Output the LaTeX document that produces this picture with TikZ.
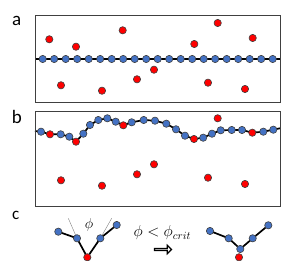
\documentclass[tikz,border=0pt]{standalone}
\usepackage{fontspec}
\newfontfamily\panelfont{Carlito}
\usepackage{tikz}
\usetikzlibrary{positioning,arrows.meta,shapes.arrows,backgrounds,calc}

\definecolor{dotblue}{HTML}{4472C4}
\definecolor{dotred}{HTML}{FF0000}
\definecolor{rimgray}{HTML}{404040}

\begin{document}
\begin{tikzpicture}[
    x=1pt, y=-1pt,
    dot/.style={circle, draw=rimgray, line width=0.6pt, inner sep=0pt,
                minimum size=7.3pt},
    bead/.style={dot, fill=dotblue},
    grain/.style={dot, fill=dotred},
    panel/.style={draw=rimgray, line width=0.8pt},
    chain/.style={line width=1.7pt, black, line join=round},
    guide/.style={gray, line width=0.4pt},
    tag/.style={anchor=base, inner sep=0pt, font=\panelfont\fontsize{19}{19}\selectfont},
  ]
  \useasboundingbox (0,0) rectangle (282,261);

  % Panel a: straight chain among scattered grains
  \node[tag] (taga) at (16.7,26) {a};
  \node[panel, minimum width=245pt, minimum height=87pt, inner sep=0pt,
        anchor=north west] (boxa) at (35,15) {};
  \coordinate (al) at (35,59);
  \coordinate (ar) at (280,59);
  \foreach \i in {1,...,21}
    \node[bead] (a\i) at ({42.7+11.5*(\i-1)},59) {};
  \foreach \x/\y [count=\i] in {49.3/39.3, 76/46.7, 122.7/30.3, 217.7/23,
      194.3/44, 252.7/38, 61/85.3, 102/90.7, 137/79.3, 154/69.7, 208/82.7, 245/89}
    \node[grain] (ga\i) at (\x,\y) {};
  \begin{scope}[on background layer]
    \draw[chain] (al) -- (ar);
  \end{scope}

  % Panel b: chain pulled onto the grains
  \node[tag] (tagb) at (16.8,124) {b};
  \node[panel, minimum width=245pt, minimum height=95.3pt, inner sep=0pt,
        anchor=north west] (boxb) at (35,110.7) {};
  \coordinate (bl) at (35,131);
  \coordinate (br) at (280,128.3);
  \foreach \x/\y/\c [count=\i] in {41/131.7/bead, 50/134.3/grain, 60.7/134.3/bead,
      69.3/136.7/bead, 76/141.7/grain, 83.3/133.7/bead, 90/125/bead, 98.3/120/bead,
      107.3/118.3/bead, 115.7/121.7/bead, 123.3/125.3/grain, 131.7/122.3/bead,
      143.7/120/bead, 155/120.7/bead, 166.3/123.7/bead, 176/129.3/bead,
      185/135.7/bead, 194/139/grain, 203.2/137.7/bead, 212/133.7/bead,
      220.7/130.3/bead, 231.7/130/bead, 242/130/bead, 252.3/132.7/grain,
      263.3/131.7/bead, 273.3/129.7/bead}
    \node[\c] (b\i) at (\x,\y) {};
  \foreach \x/\y [count=\i] in {217.7/118.3, 61/180.3, 102/185.7, 137/174.3,
      154/164.3, 208/177.7, 245/184}
    \node[grain] (gb\i) at (\x,\y) {};
  \begin{scope}[on background layer]
    \draw[chain] (bl) \foreach \i in {1,...,26} { -- (b\i.center) } -- (br);
  \end{scope}

  % Panel c: sharp kink released
  \node[tag, font=\panelfont\fontsize{17}{17}\selectfont] (tagc) at (15.7,219.5) {c};
  \node[bead] (l1) at (58.3,231.7) {};
  \node[bead] (l2) at (77,238.3) {};
  \node[grain] (l3) at (87.3,257.3) {};
  \node[bead] (l4) at (100.3,238.3) {};
  \node[bead] (l5) at (116.7,225) {};
  \coordinate (lt) at (68.3,218.3);
  \coordinate (rt) at (111.7,218.3);
  \node[font=\fontsize{14.4}{15}\selectfont, inner sep=0pt] (phi) at (89,225) {$\phi$};
  \begin{scope}[on background layer]
    \draw[guide] (l2.center) -- (lt);
    \draw[guide] (l4.center) -- (rt);
    \draw[chain] (l1.center) -- (l2.center) -- (l3.center) -- (l4.center) -- (l5.center);
  \end{scope}

  \node[font=\fontsize{14.4}{15}\selectfont, inner sep=0pt, scale=1.1,
        transform shape] (crit) at (162.5,233) {$\phi < \phi_{crit}$};
  \node[single arrow, draw=black, fill=white, line width=1.1pt, inner sep=0pt,
        minimum height=17pt, minimum width=8.5pt, single arrow head extend=1.8pt]
        (go) at (162.5,249.5) {};

  \node[bead] (r1) at (210,231) {};
  \node[bead] (r2) at (228.7,238.3) {};
  \node[bead] (r3) at (240.3,249) {};
  \node[bead] (r4) at (252.7,238.3) {};
  \node[bead] (r5) at (268.3,225.3) {};
  \node[grain] (r6) at (239,257.3) {};
  \begin{scope}[on background layer]
    \draw[chain] (r1.center) -- (r2.center) -- (r3.center) -- (r4.center) -- (r5.center);
  \end{scope}
\end{tikzpicture}
\end{document}
